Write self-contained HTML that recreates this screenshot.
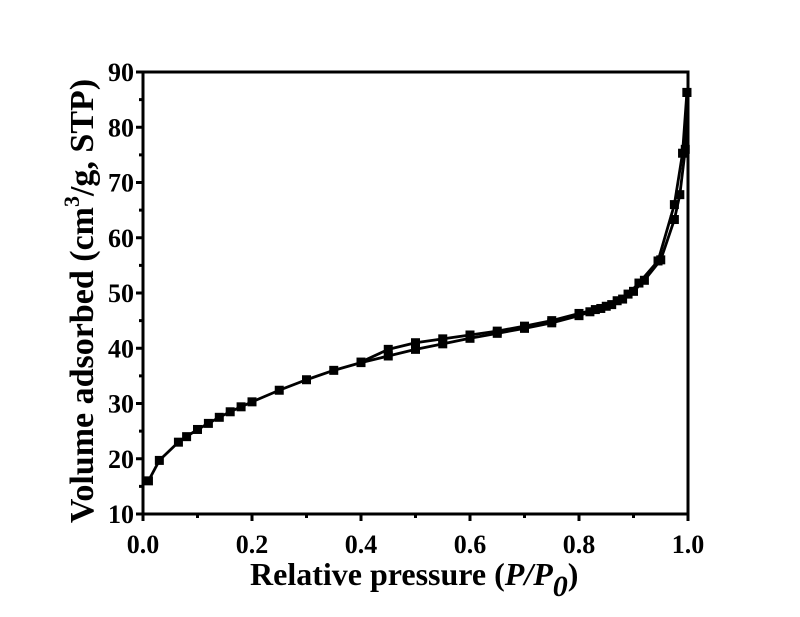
<!DOCTYPE html>
<html><head><meta charset="utf-8"><style>
html,body{margin:0;padding:0;background:#fff;width:800px;height:617px;overflow:hidden}
svg{display:block;font-family:"Liberation Serif",serif;font-weight:bold}
</style></head><body>
<svg id="chart" width="800" height="617" viewBox="0 0 800 617"></svg>
<script>
const xTicks=[0.0,0.2,0.4,0.6,0.8,1.0];
const xTickLabels=["0.0","0.2","0.4","0.6","0.8","1.0"];
const yTicks=[10,20,30,40,50,60,70,80,90];
const yTickLabels=["10","20","30","40","50","60","70","80","90"];
const adsP=[0.01,0.03,0.065,0.08,0.1,0.12,0.14,0.16,0.18,0.2,0.25,0.3,0.35,0.4,0.45,0.5,0.55,0.6,0.65,0.7,0.75,0.8,0.82,0.84,0.86,0.88,0.9,0.92,0.95,0.975,0.985,0.995,0.998];
const adsV=[16,19.7,23,24,25.3,26.4,27.5,28.5,29.4,30.3,32.4,34.3,36,37.4,38.6,39.8,40.8,41.8,42.7,43.6,44.6,45.9,46.6,47.2,47.9,48.9,50.3,52.3,56,63.3,67.8,76,86.3];
const desP=[0.998,0.99,0.975,0.945,0.91,0.89,0.87,0.85,0.83,0.8,0.75,0.7,0.65,0.6,0.55,0.5,0.45,0.4];
const desV=[86.3,75.3,66,55.8,51.8,49.8,48.6,47.6,47,46.3,45,44,43.1,42.4,41.7,41,39.8,37.5];
const X0=143,X1=688,Y0=514,Y1=72;
const sx=v=>X0+(v-0)/(1-0)*(X1-X0);
const sy=v=>Y0-(v-10)/(90-10)*(Y0-Y1);
const svg=document.getElementById('chart');
const NS='http://www.w3.org/2000/svg';
function mk(tag,attrs,parent){const e=document.createElementNS(NS,tag);for(const k in attrs)e.setAttribute(k,attrs[k]);(parent||svg).appendChild(e);return e;}
const frame=mk('rect',{x:X0,y:Y1,width:X1-X0,height:Y0-Y1,fill:'none',stroke:'#000','stroke-width':3});


xTicks.forEach((t,i)=>{
  const l=mk('line',{x1:sx(t),x2:sx(t),y1:Y0,y2:Y0+7,stroke:'#000','stroke-width':3});
  
  
  if(i<xTicks.length-1){const m=(t+xTicks[i+1])/2;const lm=mk('line',{x1:sx(m),x2:sx(m),y1:Y0,y2:Y0+4,stroke:'#000','stroke-width':3});
    
    }
  const tx=mk('text',{x:sx(t),y:Y0+39,'text-anchor':'middle','font-size':26});
  tx.textContent=xTickLabels[i];
  
  
});
yTicks.forEach((t,i)=>{
  const l=mk('line',{x1:X0-7,x2:X0,y1:sy(t),y2:sy(t),stroke:'#000','stroke-width':3});
  
  
  if(i<yTicks.length-1){const m=(t+yTicks[i+1])/2;const lm=mk('line',{x1:X0-4,x2:X0,y1:sy(m),y2:sy(m),stroke:'#000','stroke-width':3});
    
    }
  const tx=mk('text',{x:X0-9,y:sy(t)+9,'text-anchor':'end','font-size':26});
  tx.textContent=yTickLabels[i];
  
  
});
function series(P,V,name){
  const g=mk('g',{});
  
  
  mk('polyline',{points:P.map((p,i)=>sx(p)+','+sy(V[i])).join(' '),fill:'none',stroke:'#000','stroke-width':2.8,'stroke-linejoin':'round'},g);
  P.forEach((p,i)=>{const r=mk('rect',{x:sx(p)-4.5,y:sy(V[i])-4.5,width:9,height:9,fill:'#000'},g);
    
    });
}
series(adsP,adsV,'adsorption-series');
series(desP,desV,'desorption-series');
</script>
<svg style="position:absolute;left:0;top:0" width="800" height="617">
<text x="250" y="585" font-family="Liberation Serif,serif" font-weight="bold" font-size="32">Relative pressure (<tspan font-style="italic">P/P</tspan><tspan font-style="italic" font-size="30" dy="11">0</tspan><tspan dy="-11">)</tspan></text>
<text transform="translate(93,301) rotate(-90)" text-anchor="middle" font-family="Liberation Serif,serif" font-weight="bold" font-size="34">Volume adsorbed (cm<tspan font-size="22" dy="-14">3</tspan><tspan dy="14">/g, STP)</tspan></text>
</svg>
</body></html>
